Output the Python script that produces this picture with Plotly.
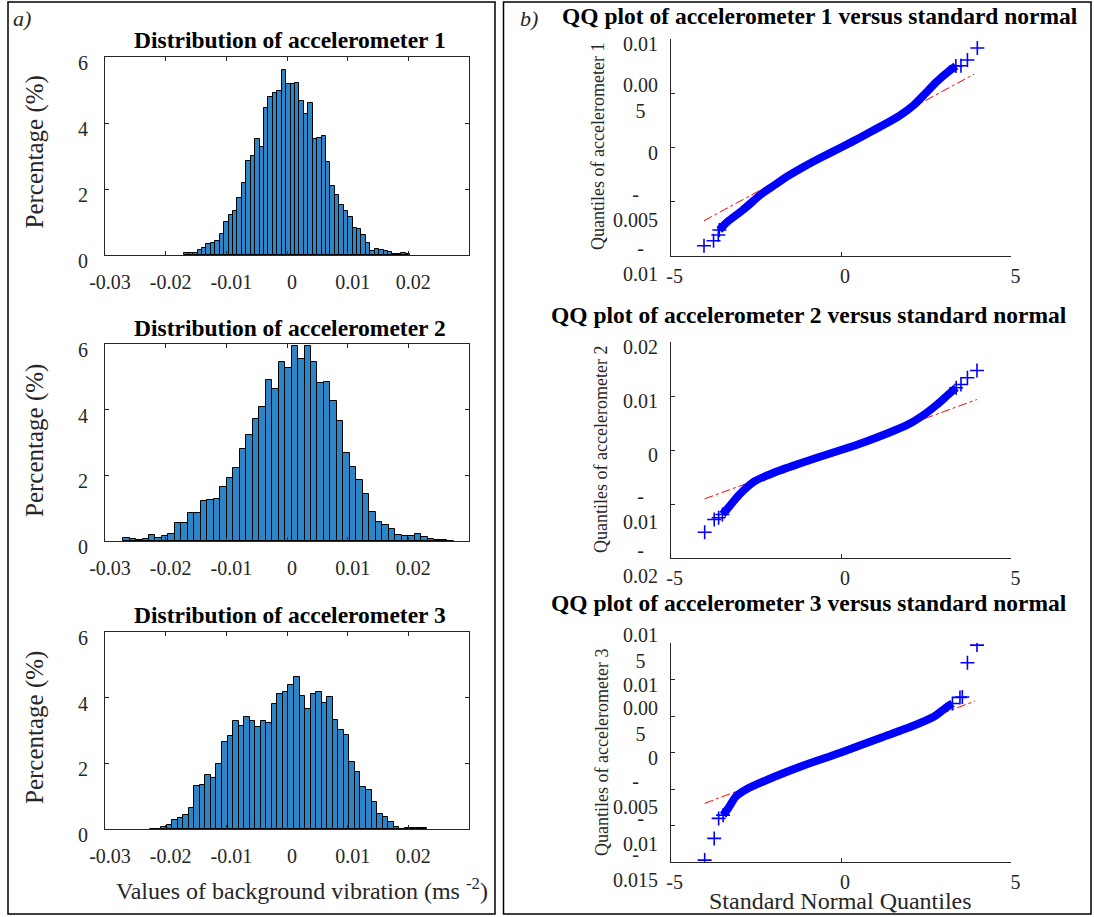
import plotly.graph_objects as go

W, H = 1094, 917
SERIF = "Liberation Serif, Times New Roman, serif"
INK = "#262626"
BAR_COLOR = "rgb(44,133,198)"

# ---------------- Histogram data (percentage of samples per bin) ----------------
hist_bin_start = [-0.01694, -0.02702, -0.02258]
hist_bin_width = [0.00073, 0.001068, 0.000913]

hist1_pct = [0.07, 0.07, 0.07, 0.14, 0.21, 0.32, 0.35, 0.42, 0.64, 1.01, 1.21, 1.33, 1.72,
             2.18, 2.86, 3.01, 3.52, 3.27, 4.44, 4.80, 4.92, 4.97, 5.61, 5.17, 5.18, 5.20,
             4.67, 4.27, 4.62, 3.51, 3.56, 3.60, 2.83, 2.09, 1.81, 1.51, 1.33, 1.15, 0.81,
             0.78, 0.62, 0.37, 0.12, 0.19, 0.14, 0.11, 0.08, 0.02, 0.02, 0.06, 0.02]
hist2_pct = [0.08, 0.06, 0.02, 0.05, 0.18, 0.10, 0.14, 0.20, 0.55, 0.55, 0.85, 0.86, 1.23,
             1.26, 1.28, 1.66, 1.91, 2.22, 2.79, 3.24, 3.71, 4.09, 4.89, 4.62, 5.44, 5.26,
             5.94, 5.55, 5.94, 5.44, 4.80, 4.85, 4.27, 3.64, 2.68, 2.24, 1.87, 1.42, 0.88,
             0.59, 0.50, 0.37, 0.19, 0.16, 0.16, 0.20, 0.13, 0.05, 0.02, 0.02, 0.0]
hist3_pct = [0.01, 0.01, 0.07, 0.12, 0.26, 0.35, 0.42, 0.64, 1.32, 1.34, 1.63, 1.55, 1.98,
             2.65, 2.83, 3.28, 3.15, 3.41, 3.29, 3.10, 3.28, 3.22, 3.82, 4.10, 4.17, 4.38,
             4.62, 4.06, 3.64, 4.12, 4.17, 3.83, 4.01, 3.32, 3.01, 2.86, 2.03, 1.73, 1.29,
             1.18, 0.82, 0.46, 0.37, 0.21, 0.06, 0.01, 0.02, 0.02, 0.02, 0.02]

hist_titles = ["Distribution of accelerometer 1", "Distribution of accelerometer 2",
               "Distribution of accelerometer 3"]
hist_xticks = [-0.03, -0.02, -0.01, 0, 0.01, 0.02]
hist_xticklabels = ["-0.03", "-0.02", "-0.01", "0", "0.01", "0.02"]
hist_yticks = [0, 2, 4, 6]

# ---------------- QQ plot data ----------------
qq1_theo = [-3.57, -3.33, -2.88, -2.32, -1.99, -1.54, -1.09, -0.54, 0.0, 0.58, 1.14, 1.70,
            2.14, 2.48, 2.81, 3.15, 3.37]
qq1_samp = [-0.00760, -0.00684, -0.00576, -0.00425, -0.00355, -0.00260, -0.00177, -0.00085,
            0.0, 0.00095, 0.00190, 0.00290, 0.00392, 0.00500, 0.00607, 0.00699, 0.00751]
qq1_tail_theo = [-4.02, -3.74, -3.60, -3.57, 3.37, 3.52, 3.71, 4.00]
qq1_tail_samp = [-0.00905, -0.00859, -0.00806, -0.00760, 0.00751, 0.00754, 0.00806, 0.00917]
qq1_ref_theo = [-4.02, 3.91]
qq1_ref_samp = [-0.00675, 0.00677]

qq2_theo = [-3.48, -3.31, -2.98, -2.53, -1.97, -1.30, -0.64, 0.0, 0.70, 1.37, 1.93, 2.37,
            2.82, 3.15, 3.38]
qq2_samp = [-0.01194, -0.01071, -0.00824, -0.00577, -0.00420, -0.00270, -0.00130, 0.0,
            0.00150, 0.00310, 0.00460, 0.00626, 0.00843, 0.01028, 0.01152]
qq2_tail_theo = [-4.00, -3.72, -3.59, -3.48, 3.38, 3.52, 3.71, 3.99]
qq2_tail_samp = [-0.01522, -0.01287, -0.01256, -0.01194, 0.01152, 0.01213, 0.01337, 0.01472]
qq2_ref_theo = [-4.00, 3.99]
qq2_ref_samp = [-0.00904, 0.00935]

qq3_theo = [-3.46, -3.31, -3.09, -2.76, -1.97, -1.08, 0.0, 1.15, 2.05, 2.72, 3.05, 3.27]
qq3_samp = [-0.00858, -0.00766, -0.00607, -0.00501, -0.00336, -0.00173, 0.0, 0.00200,
            0.00352, 0.00489, 0.00603, 0.00672]
qq3_tail_theo = [-4.00, -3.72, -3.59, -3.46, 3.27, 3.49, 3.56, 3.71, 3.99]
qq3_tail_samp = [-0.01474, -0.01177, -0.00903, -0.00858, 0.00672, 0.00755, 0.00760, 0.01229,
                 0.01471]
qq3_ref_theo = [-4.00, 3.93]
qq3_ref_samp = [-0.00697, 0.00704]

qq_titles = ["QQ plot of accelerometer 1 versus standard normal",
             "QQ plot of accelerometer 2 versus standard normal",
             "QQ plot of accelerometer 3 versus standard normal"]
qq_ylabels = ["Quantiles of accelerometer 1", "Quantiles of accelerometer 2",
              "Quantiles of accelerometer 3"]
qq_xticks = [-5, 0, 5]
qq_xticklabels = ["-5", "0", "5"]
qq1_yticks = [-0.01, -0.005, 0, 0.005, 0.01]
qq1_yticklabels = ["-<br>0.01", "-<br>0.005", "0", "0.00<br>5", "0.01"]
qq2_yticks = [-0.02, -0.01, 0, 0.01, 0.02]
qq2_yticklabels = ["-<br>0.02", "-<br>0.01", "0", "0.01", "0.02"]
qq3_yticks = [-0.015, -0.01, -0.005, 0, 0.005, 0.01, 0.015]
qq3_yticklabels = ["-<br>0.015", "-<br>0.01", "-<br>0.005", "0", "0.00<br>5", "0.01", "0.01<br>5"]
qq_yranges = [[-0.01, 0.01], [-0.02, 0.02], [-0.015, 0.015]]


def pxx(x):
    return x / W


def pxy(y):
    return 1 - y / H


fig = go.Figure()

# ---------------- Histograms ----------------
hists = [hist1_pct, hist2_pct, hist3_pct]
hist_ypix = [(57, 255), (344, 541), (632, 829)]
for i, vals in enumerate(hists):
    start, width = hist_bin_start[i], hist_bin_width[i]
    centers = [start + (k + 0.5) * width for k in range(len(vals))]
    n = i + 1
    fig.add_trace(go.Bar(
        x=centers, y=vals, width=width,
        marker=dict(color=BAR_COLOR, line=dict(color="black", width=1)),
        xaxis=f"x{n}", yaxis=f"y{n}", showlegend=False, hoverinfo="skip"))

# ---------------- QQ plots ----------------
qq_sets = [
    (qq1_theo, qq1_samp, qq1_tail_theo, qq1_tail_samp, qq1_ref_theo, qq1_ref_samp),
    (qq2_theo, qq2_samp, qq2_tail_theo, qq2_tail_samp, qq2_ref_theo, qq2_ref_samp),
    (qq3_theo, qq3_samp, qq3_tail_theo, qq3_tail_samp, qq3_ref_theo, qq3_ref_samp),
]
for i, (tx, ty, tailx, taily, rx, ry) in enumerate(qq_sets):
    n = i + 4
    fig.add_trace(go.Scatter(x=rx, y=ry, mode="lines",
                             line=dict(color="red", width=1, dash="dashdot"),
                             xaxis=f"x{n}", yaxis=f"y{n}", showlegend=False))
    fig.add_trace(go.Scatter(x=tx, y=ty, mode="lines",
                             line=dict(color="blue", width=8, shape="spline", smoothing=0.6),
                             xaxis=f"x{n}", yaxis=f"y{n}", showlegend=False))
    fig.add_trace(go.Scatter(x=tailx, y=taily, mode="markers",
                             marker=dict(symbol="cross-thin", size=10,
                                         line=dict(color="blue", width=1.6)),
                             xaxis=f"x{n}", yaxis=f"y{n}", showlegend=False))

layout = dict(
    width=W, height=H, margin=dict(l=0, r=0, t=0, b=0, pad=0, autoexpand=False),
    autosize=False, showlegend=False,
    paper_bgcolor="white", plot_bgcolor="white",
    font=dict(family=SERIF, color=INK), bargap=0,
)

tickfont = dict(family=SERIF, size=20, color=INK)
for i in range(3):
    n = i + 1
    y0, y1 = hist_ypix[i]
    layout[f"xaxis{n}"] = dict(
        domain=[pxx(105), pxx(469)], anchor=f"y{n}", range=[-0.03, 0.03],
        tickvals=hist_xticks, ticktext=hist_xticklabels, ticks="inside", ticklen=4,
        tickcolor=INK, showline=True, linecolor=INK, linewidth=1, mirror="allticks",
        showgrid=False, zeroline=False, tickfont=tickfont, automargin=False,
        ticklabelstandoff=9, ticklabelshift=5)
    layout[f"yaxis{n}"] = dict(
        domain=[pxy(y1), pxy(y0)], anchor=f"x{n}", range=[0, 6],
        tickvals=hist_yticks, ticks="inside", ticklen=4, tickcolor=INK,
        showline=True, linecolor=INK, linewidth=1, mirror="allticks",
        showgrid=False, zeroline=False, tickfont=tickfont, automargin=False,
        ticklabelstandoff=12, ticklabelshift=6)

qq_ypix = [(39, 256), (342, 558), (643, 862)]
for i in range(3):
    n = i + 4
    y0, y1 = qq_ypix[i]
    layout[f"xaxis{n}"] = dict(
        domain=[pxx(670.6), pxx(1011.4)], anchor=f"y{n}", range=[-5, 5],
        tickvals=qq_xticks, ticktext=qq_xticklabels, ticks="inside", ticklen=4,
        tickcolor=INK, showline=True, linecolor=INK, linewidth=1, mirror=False,
        showgrid=False, zeroline=False, tickfont=tickfont, automargin=False,
        ticklabelstandoff=2, ticklabelshift=4)
    layout[f"yaxis{n}"] = dict(
        domain=[pxy(y1), pxy(y0)], anchor=f"x{n}", range=qq_yranges[i],
        tickvals=[qq1_yticks, qq2_yticks, qq3_yticks][i], showticklabels=False,
        ticks="inside", ticklen=4, tickcolor=INK, showline=True, linecolor=INK,
        linewidth=1, mirror=False, showgrid=False, zeroline=False, automargin=False)

fig.update_layout(**layout)

annotations = []
# QQ y tick labels (wrapped as in the original)
for i, (vals, labs) in enumerate([(qq1_yticks, qq1_yticklabels), (qq2_yticks, qq2_yticklabels),
                                  (qq3_yticks, qq3_yticklabels)]):
    n = i + 4
    for v, lab in zip(vals, labs):
        annotations.append(dict(
            text=lab, xref=f"x{n} domain", x=0, xanchor="right", xshift=-11,
            yref=f"y{n}", y=v, yanchor="middle", yshift=-5, align="center",
            showarrow=False, font=dict(family=SERIF, size=20, color=INK)))

# Histogram titles
for t, yc in zip(hist_titles, [40, 328, 615]):
    annotations.append(dict(text=f"<b>{t}</b>", xref="paper", yref="paper", x=pxx(290),
                            y=pxy(yc), xanchor="center", yanchor="middle", showarrow=False,
                            font=dict(family=SERIF, size=23.5, color="black")))
# Histogram y labels
for yc in [152.5, 441, 728]:
    annotations.append(dict(text="Percentage (%)", xref="paper", yref="paper", x=pxx(35),
                            y=pxy(yc), xanchor="center", yanchor="middle", textangle=-90,
                            showarrow=False, font=dict(family=SERIF, size=25, color=INK)))
annotations.append(dict(text="Values of background vibration (ms <sup>-2</sup>)", xref="paper",
                        yref="paper", x=pxx(302), y=pxy(889), xanchor="center",
                        yanchor="middle", showarrow=False,
                        font=dict(family=SERIF, size=24, color=INK)))
# QQ titles
for t, xc, yc in zip(qq_titles, [819.5, 809, 809], [16, 315, 603]):
    annotations.append(dict(text=f"<b>{t}</b>", xref="paper", yref="paper", x=pxx(xc),
                            y=pxy(yc), xanchor="center", yanchor="middle", showarrow=False,
                            font=dict(family=SERIF, size=23.5, color="black")))
# QQ y labels
for t, xc, yc in zip(qq_ylabels, [598, 601, 602], [147, 450, 753]):
    annotations.append(dict(text=t, xref="paper", yref="paper", x=pxx(xc), y=pxy(yc),
                            xanchor="center", yanchor="middle", textangle=-90,
                            showarrow=False, font=dict(family=SERIF, size=18, color=INK)))
annotations.append(dict(text="Standard Normal Quantiles", xref="paper", yref="paper",
                        x=pxx(840), y=pxy(901), xanchor="center", yanchor="middle",
                        showarrow=False, font=dict(family=SERIF, size=24, color=INK)))
# Panel letters
annotations.append(dict(text="<i>a)</i>", xref="paper", yref="paper", x=pxx(22), y=pxy(19),
                        xanchor="center", yanchor="middle", showarrow=False,
                        font=dict(family=SERIF, size=22, color=INK)))
annotations.append(dict(text="<i>b)</i>", xref="paper", yref="paper", x=pxx(529), y=pxy(19),
                        xanchor="center", yanchor="middle", showarrow=False,
                        font=dict(family=SERIF, size=22, color=INK)))

shapes = [
    dict(type="rect", xref="paper", yref="paper", x0=pxx(8), x1=pxx(495), y0=pxy(914),
         y1=pxy(2), line=dict(color="black", width=1.5)),
    dict(type="rect", xref="paper", yref="paper", x0=pxx(503.5), x1=pxx(1091), y0=pxy(914),
         y1=pxy(2), line=dict(color="black", width=1.5)),
]

fig.update_layout(annotations=annotations, shapes=shapes)
fig.write_html("out.html")
